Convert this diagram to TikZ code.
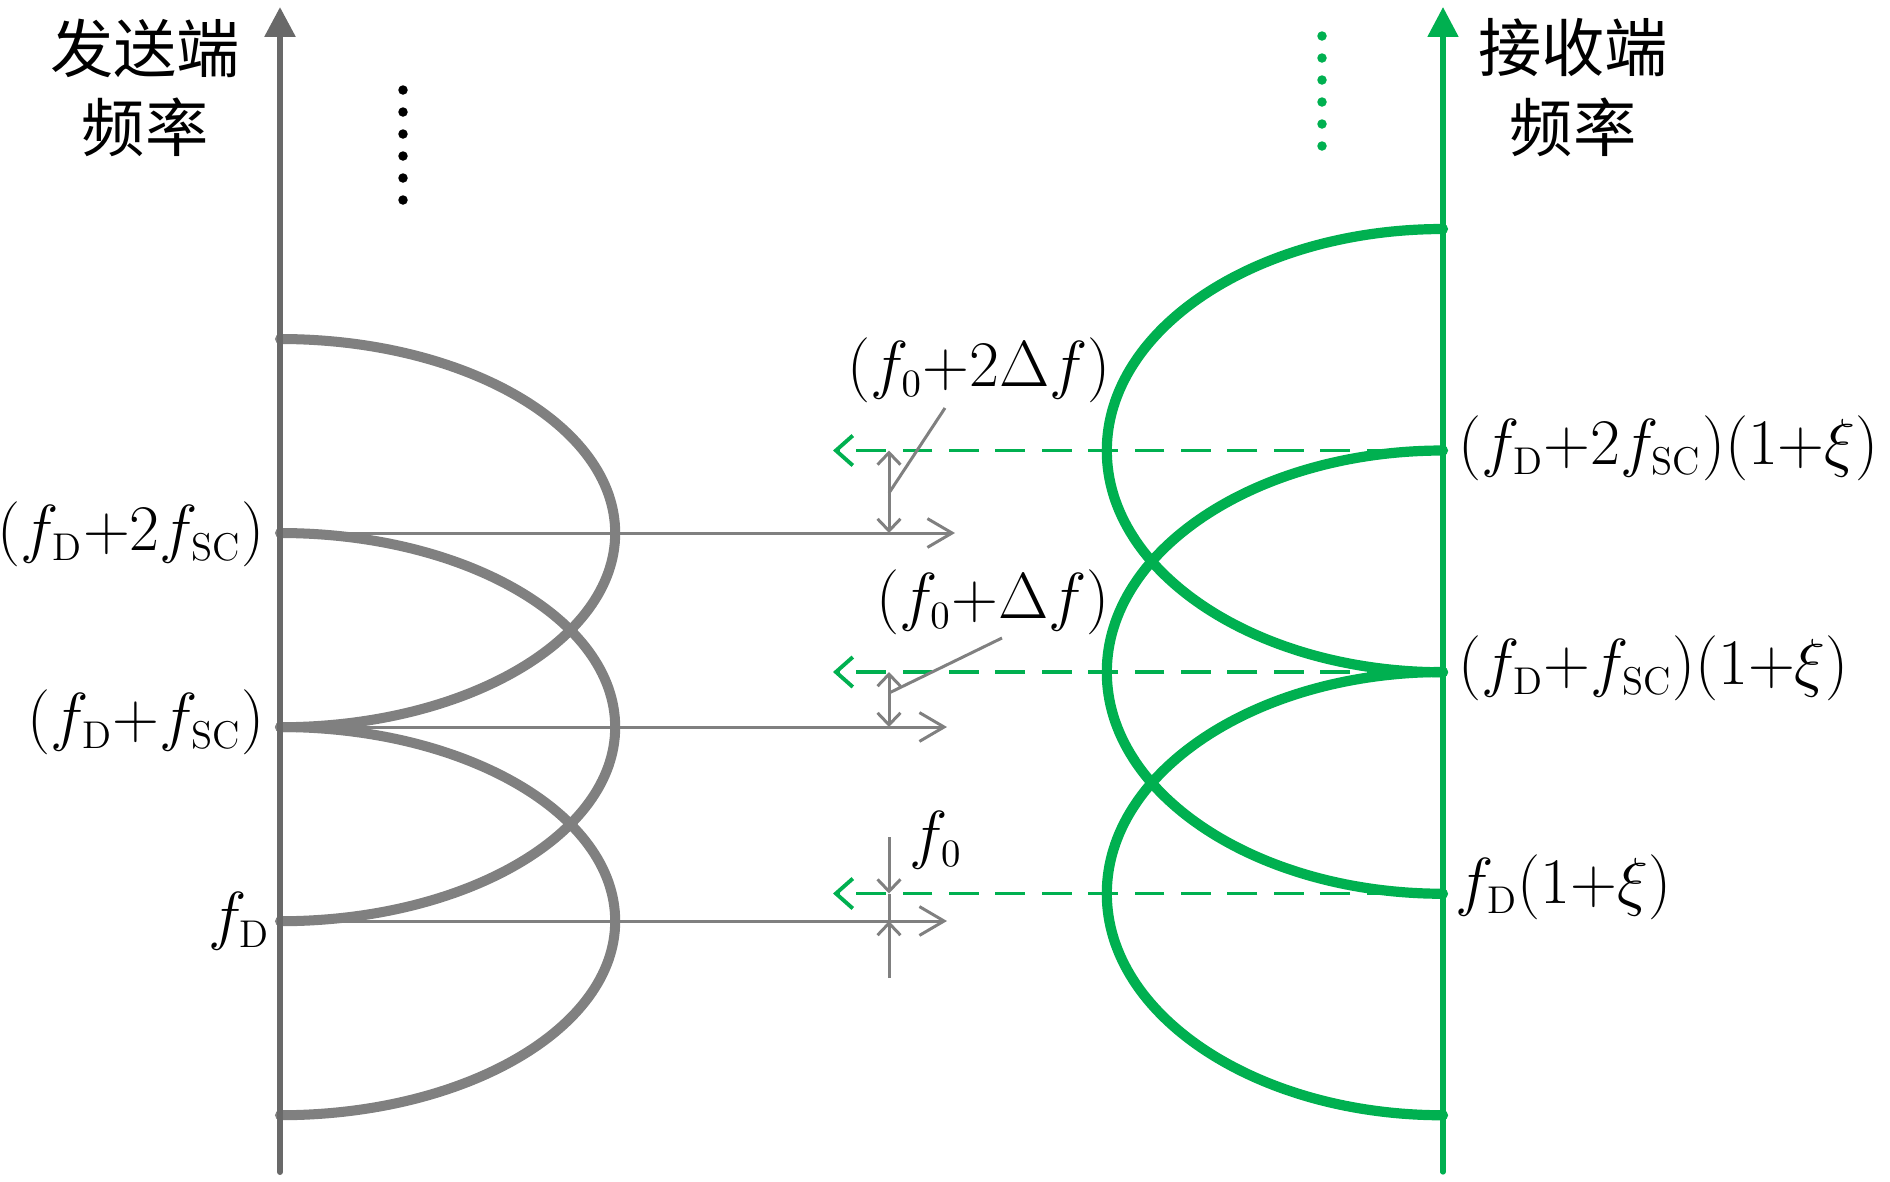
\RequirePackage{fix-cm}
\documentclass[tikz,border=0pt]{standalone}
\usepackage{fontspec}
\newfontfamily\cjk{Noto Sans CJK SC}
\usetikzlibrary{arrows.meta}
\DeclareMathSizes{18.5}{18.5}{11}{8}
\definecolor{mygreen}{RGB}{0,176,80}
\definecolor{curvegray}{RGB}{128,128,128}
\definecolor{axisgray}{RGB}{105,105,105}
\newcommand{\mfont}{\fontsize{18.5}{22}\selectfont}
\newcommand{\cfont}{\cjk\fontsize{18}{22}\selectfont}
\tikzset{
  grayaxis/.style={draw=axisgray, line width=1.7pt, line cap=round, -{Triangle[length=8.5pt,width=8.5pt]}},
  greenaxis/.style={draw=mygreen, line width=1.5pt, line cap=round, -{Triangle[length=8.5pt,width=8.5pt]}},
  graycurve/.style={draw=curvegray, line width=2.85pt, line cap=round},
  greencurve/.style={draw=mygreen, line width=2.9pt, line cap=round},
  grayarrow/.style={draw=curvegray, line width=0.85pt, -{Straight Barb[length=7pt,width=8.2pt]}},
  dimarrow/.style={draw=curvegray, line width=0.85pt, {Straight Barb[length=3.4pt,width=6.5pt]}-{Straight Barb[length=3.4pt,width=6.5pt]}},
  dimhalf/.style={draw=curvegray, line width=0.85pt, -{Straight Barb[length=3.4pt,width=6.5pt]}},
  thingray/.style={draw=curvegray, line width=0.85pt},
  greendash/.style={draw=mygreen, line width=1.1pt, dash pattern=on 8.5pt off 4.7pt, -{Straight Barb[length=4.8pt,width=8.5pt]}},
  mlabel/.style={inner sep=0pt, font=\mfont},
  clabel/.style={inner sep=0pt, font=\cfont},
}
\begin{document}
\begin{tikzpicture}[x=0.01cm,y=-0.01cm]
\useasboundingbox (0,0) rectangle (1890,1181);

% axes
\coordinate (Lbot) at (280,1172);
\coordinate (Ltop) at (280,7);
\coordinate (Rbot) at (1443,1172);
\coordinate (Rtop) at (1443,7);

% sending points
\coordinate (s1) at (280,339);
\coordinate (s2) at (280,533);
\coordinate (s3) at (280,727);
\coordinate (s4) at (280,921);
\coordinate (s5) at (280,1115);
% receiving points
\coordinate (r1) at (1443,229);
\coordinate (r2) at (1443,450.5);
\coordinate (r3) at (1443,672);
\coordinate (r4) at (1443,893.5);
\coordinate (r5) at (1443,1115);

% arrow ends
\coordinate (ga2) at (955,533);
\coordinate (ga3) at (947,727);
\coordinate (ga4) at (947,921);
\coordinate (gd2) at (833,450.5);
\coordinate (gd3) at (833,672);
\coordinate (gd4) at (833,893.5);

% green dashed lines
\draw[greendash] (r2) -- (gd2);
\draw[greendash] (r3) -- (gd3);
\draw[greendash] (r4) -- (gd4);

% gray horizontal arrows
\draw[grayarrow] (s2) -- (ga2);
\draw[grayarrow] (s3) -- (ga3);
\draw[grayarrow] (s4) -- (ga4);

% gray half ellipses
\draw[graycurve] (s1) arc[start angle=90, end angle=-90, x radius=3.35cm, y radius=1.94cm];
\draw[graycurve] (s2) arc[start angle=90, end angle=-90, x radius=3.35cm, y radius=1.94cm];
\draw[graycurve] (s3) arc[start angle=90, end angle=-90, x radius=3.35cm, y radius=1.94cm];

% green half ellipses
\draw[greencurve] (r1) arc[start angle=90, end angle=270, x radius=3.36cm, y radius=2.215cm];
\draw[greencurve] (r2) arc[start angle=90, end angle=270, x radius=3.36cm, y radius=2.215cm];
\draw[greencurve] (r3) arc[start angle=90, end angle=270, x radius=3.36cm, y radius=2.215cm];

% axes on top
\draw[grayaxis] (Lbot) -- (Ltop);
\draw[greenaxis] (Rbot) -- (Rtop);

% dimension arrows
\coordinate (d1a) at (889,450.5);
\coordinate (d1b) at (889,533);
\coordinate (d2a) at (889,672);
\coordinate (d2b) at (889,727);
\coordinate (d3t) at (889,837);
\coordinate (d3a) at (889,893.5);
\coordinate (d3b) at (889,921);
\coordinate (d3d) at (889,978);
\draw[dimarrow] (d1a) -- (d1b);
\draw[dimarrow] (d2a) -- (d2b);
\draw[dimhalf] (d3t) -- (d3a);
\draw[thingray] (d3a) -- (d3b);
\draw[dimhalf] (d3d) -- (d3b);

% leaders
\coordinate (l1a) at (889,493);
\coordinate (l1b) at (945,408);
\coordinate (l2a) at (889,693);
\coordinate (l2b) at (1002,638);
\draw[thingray] (l1a) -- (l1b);
\draw[thingray] (l2a) -- (l2b);

% middle labels
\node[mlabel] (lab1) at (979,370) {$(f_0{+}2\Delta f)$};
\node[mlabel] (lab2) at (993,602) {$(f_0{+}\Delta f)$};
\node[mlabel] (lab3) at (936,840) {$f_0$};

% left labels
\node[mlabel, anchor=east] (ll2) at (265,534) {$(f_{\mathrm{D}}{+}2f_{\mathrm{SC}})$};
\node[mlabel, anchor=east] (ll3) at (265,722) {$(f_{\mathrm{D}}{+}f_{\mathrm{SC}})$};
\node[mlabel, anchor=east] (ll4) at (271,921) {$f_{\mathrm{D}}$};

% right labels
\node[mlabel, anchor=west] (rl2) at (1458,448) {$(f_{\mathrm{D}}{+}2f_{\mathrm{SC}})(1{+}\xi)$};
\node[mlabel, anchor=west] (rl3) at (1458,668) {$(f_{\mathrm{D}}{+}f_{\mathrm{SC}})(1{+}\xi)$};
\node[mlabel, anchor=west] (rl4) at (1455,887) {$f_{\mathrm{D}}(1{+}\xi)$};

% titles
\node[clabel] (tl1) at (145,48) {发送端};
\node[clabel] (tl2) at (145,127) {频率};
\node[clabel] (tr1) at (1573,48) {接收端};
\node[clabel] (tr2) at (1573,127) {频率};

% dots
\foreach \yy in {90,112,134,156,178,200} \fill[black] (403,\yy) circle[radius=1.35pt];
\foreach \yy in {36,58,80,102,124,146} \fill[mygreen] (1322,\yy) circle[radius=1.35pt];
\end{tikzpicture}
\end{document}
